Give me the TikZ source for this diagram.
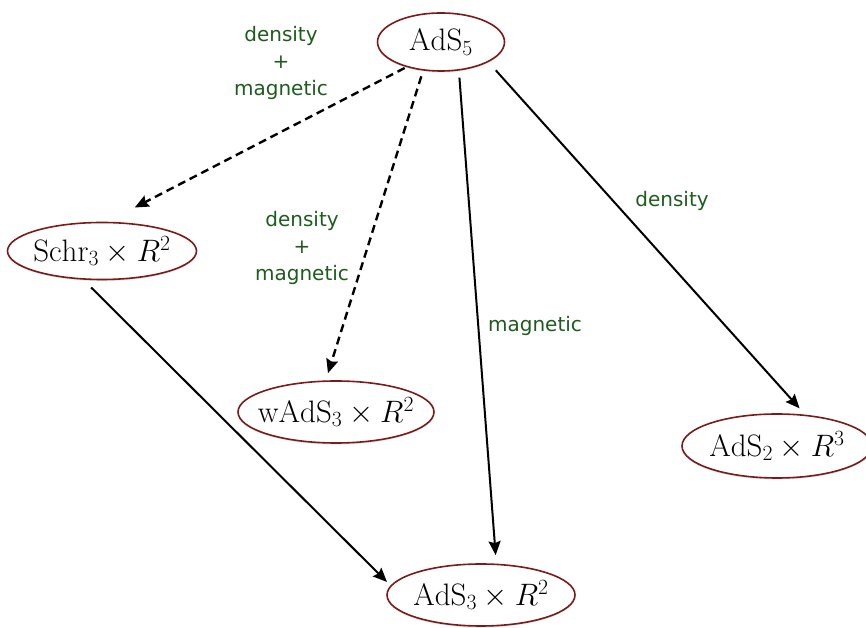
\RequirePackage{fix-cm}
\documentclass[tikz,border=0pt]{standalone}
\usepackage{fontspec}
\newfontfamily\labelfont{DejaVu Sans}
\usetikzlibrary{arrows.meta,shapes.geometric,shadows}
\definecolor{StageRim}{HTML}{7A1A1A}
\definecolor{FlowGreen}{HTML}{1E5C1E}

\begin{document}
\begin{tikzpicture}[x=1pt,y=1pt,
  stage/.style={ellipse,draw=StageRim,line width=1.6pt,fill=white,inner xsep=-60pt,inner ysep=-30pt,
    font=\fontsize{31}{36}\selectfont,drop shadow={shadow xshift=0pt,shadow yshift=-1.5pt,opacity=0.25}},
  flow/.style={line width=2pt,-{Stealth[length=14pt,width=12pt,inset=2pt]}},
  maybe/.style={flow,line width=2.4pt,dash pattern=on 8pt off 5pt},
  tag/.style={font=\labelfont\fontsize{20}{27}\selectfont,text=FlowGreen,align=center}
]
\useasboundingbox (0,0) rectangle (866,628);
\node[stage,minimum width=127pt,minimum height=58pt] (ads5) at (441,586) {$\mathrm{AdS}_5$};
\node[stage,minimum width=189pt,minimum height=57pt] (schr) at (102,377) {$\mathrm{Schr}_3\times R^2$};
\node[stage,minimum width=196pt,minimum height=62pt] (wads) at (336,216) {$\mathrm{wAdS}_3\times R^2$};
\node[stage,minimum width=190pt,minimum height=64pt] (ads2) at (777,182) {$\mathrm{AdS}_2\times R^3$};
\node[stage,minimum width=188pt,minimum height=62pt] (ads3) at (481,33) {$\mathrm{AdS}_3\times R^2$};

\draw[maybe,shorten <=2pt,shorten >=31pt] (ads5.216) -- (schr.80);
\draw[maybe,shorten <=6pt,shorten >=7.5pt] (ads5.238) -- (wads.108);
\draw[flow,shorten <=7pt,shorten >=8.5pt] (ads5.302) -- (ads3.64);
\draw[flow,shorten <=11pt,shorten >=8.5pt] (ads5.337) -- (ads2.48);
\draw[flow,shorten <=11pt,shorten >=5pt] (schr.237) -- (ads3.174);

\node[tag] (mix1) at (281,565) {density\\+\\magnetic};
\node[tag] (mix2) at (302,380) {density\\+\\magnetic};
\node[tag] (mag) at (535,302) {magnetic};
\node[tag] (dens) at (672,427) {density};
\end{tikzpicture}
\end{document}
